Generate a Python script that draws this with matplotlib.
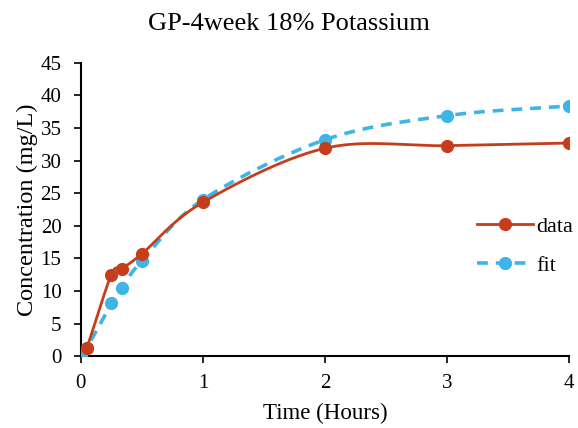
import numpy as np
import matplotlib.pyplot as plt

time_data = [0.05, 0.25, 0.333, 0.5, 1, 2, 3, 4]
conc_data = [1.3, 12.5, 13.4, 15.7, 23.6, 31.9, 32.3, 32.7]

time_fit = [0, 0.05, 0.25, 0.333, 0.5, 1, 2, 3, 4]
conc_fit = [0, 1.3, 8.1, 10.5, 14.6, 24.0, 33.2, 36.9, 38.4]

red = "#C63D1C"
blue = "#3DB5E6"


def smooth(x, y, n=30):
    # Catmull-Rom curve through the points, like Excel's smoothed line
    x = np.asarray(x, float)
    y = np.asarray(y, float)
    px = np.concatenate([[2 * x[0] - x[1]], x, [2 * x[-1] - x[-2]]])
    py = np.concatenate([[2 * y[0] - y[1]], y, [2 * y[-1] - y[-2]]])
    t = np.linspace(0, 1, n)
    xs, ys = [], []
    for i in range(1, len(px) - 2):
        for p, out in ((px, xs), (py, ys)):
            p0, p1, p2, p3 = p[i - 1], p[i], p[i + 1], p[i + 2]
            out.extend(0.5 * (2 * p1 + (-p0 + p2) * t
                              + (2 * p0 - 5 * p1 + 4 * p2 - p3) * t ** 2
                              + (-p0 + 3 * p1 - 3 * p2 + p3) * t ** 3))
    return np.array(xs), np.array(ys)


plt.rcParams['font.family'] = ['Liberation Serif', 'DejaVu Serif']

fig = plt.figure(figsize=(5.78, 4.28), dpi=100)
ax = fig.add_axes([0.140, 0.168, 0.844, 0.685])

sx, sy = smooth(time_fit, conc_fit)
ax.plot(sx, sy, color=blue, linewidth=2.6, linestyle=(0, (3.0, 2.2)), zorder=2)
ax.plot(time_fit, conc_fit, linestyle="none", marker="o", markersize=8.5,
        color=blue, zorder=3)

sx, sy = smooth(time_data, conc_data)
ax.plot(sx, sy, color=red, linewidth=2.0, zorder=4)
ax.plot(time_data, conc_data, linestyle="none", marker="o", markersize=8.5,
        color=red, zorder=5)

# legend proxies
ax.plot([], [], color=red, linewidth=2.0, marker="o", markersize=8.5, label="data")
ax.plot([], [], color=blue, linewidth=2.6, linestyle=(0, (3.0, 2.2)),
        marker="o", markersize=8.5, label="fit")
handles, labels = ax.get_legend_handles_labels()
ax.legend(handles, labels, loc="center left", bbox_to_anchor=(0.78, 0.375),
          frameon=False, fontsize=16, handlelength=2.5, labelspacing=0.85,
          handletextpad=0.15, borderpad=0.2)

ax.set_xlim(0, 4)
ax.set_ylim(0, 45)
ax.set_xticks(range(0, 5))
ax.set_yticks(range(0, 50, 5))
ax.spines["top"].set_visible(False)
ax.spines["right"].set_visible(False)
ax.spines["left"].set_linewidth(1.5)
ax.spines["bottom"].set_linewidth(1.5)
ax.tick_params(direction="out", length=5, width=1.2, labelsize=15)
ax.tick_params(axis="y", pad=9)
ax.tick_params(axis="x", pad=8)
ax.set_xlabel("Time (Hours)", fontsize=16.5, labelpad=7)
ax.set_ylabel("Concentration (mg/L)", fontsize=17.5, labelpad=2)
fig.text(0.5, 0.944, "GP-4week 18% Potassium", ha="center", va="center",
         fontsize=19)

fig.savefig("out.png", dpi=100)
